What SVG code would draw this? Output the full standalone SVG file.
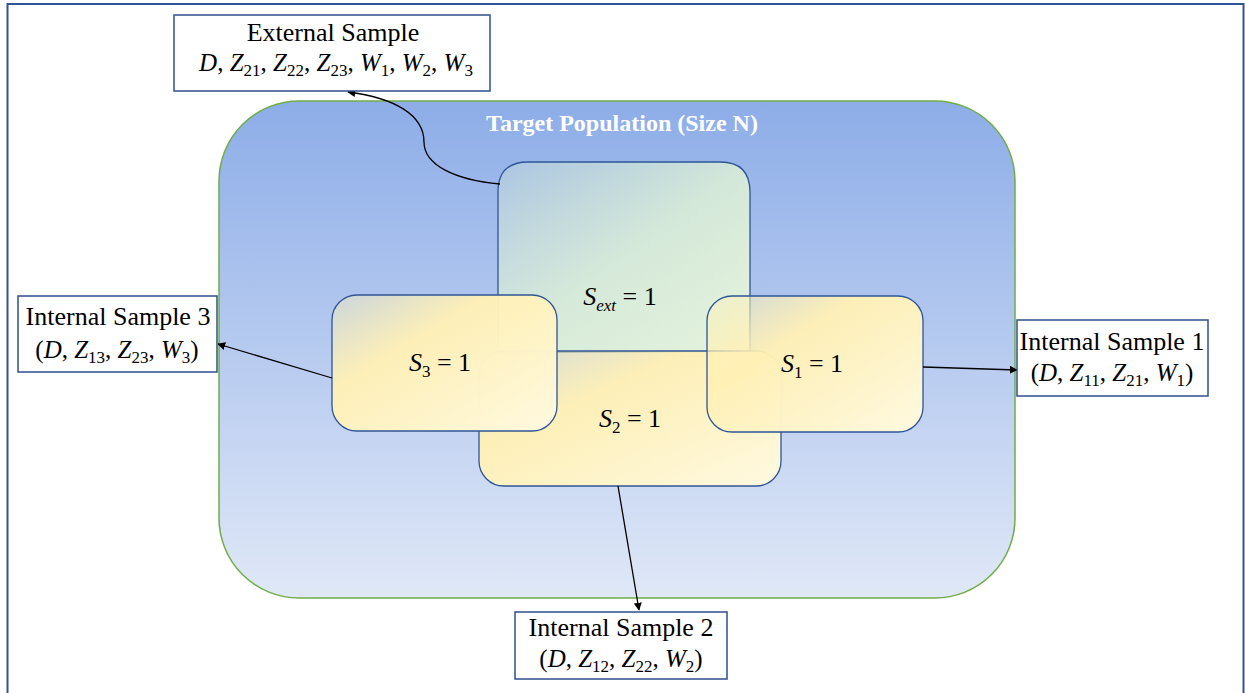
<svg xmlns="http://www.w3.org/2000/svg" width="1245" height="693" viewBox="0 0 1245 693">
<style>
.lbl{font-family:"Liberation Serif",serif;font-size:26px;fill:#000;text-anchor:middle}
.m{font-family:"Liberation Serif",serif;font-size:25px;fill:#000;text-anchor:middle}
.s{font-family:"Liberation Serif",serif;font-size:26px;fill:#000;text-anchor:middle}
.i{font-style:italic}
.sub{font-size:17px}
.box{fill:#fff;stroke:#2f4f8f;stroke-width:1.5}
.samp{stroke:#2f5597;stroke-width:1.3}
.conn{fill:none;stroke:#000;stroke-width:1.3}
</style>
<defs>
<linearGradient id="pop" x1="0" y1="0" x2="0" y2="1">
<stop offset="0" stop-color="#8dade8"/>
<stop offset="1" stop-color="#e0e8f7"/>
</linearGradient>
<linearGradient id="yel" x1="0" y1="0" x2="1" y2="1">
<stop offset="0" stop-color="#fff2b8" stop-opacity="0.35"/>
<stop offset="0.35" stop-color="#fff0b5" stop-opacity="0.97"/>
<stop offset="1" stop-color="#fff9e0" stop-opacity="1"/>
</linearGradient>
<linearGradient id="grn" x1="0" y1="0" x2="1" y2="1">
<stop offset="0" stop-color="#d8ecd0" stop-opacity="0.3"/>
<stop offset="0.5" stop-color="#ddf0d6" stop-opacity="0.85"/>
<stop offset="1" stop-color="#e4f3dc" stop-opacity="1"/>
</linearGradient>
<marker id="ah" viewBox="0 0 10 10" refX="9" refY="5" markerWidth="8" markerHeight="8" markerUnits="userSpaceOnUse" orient="auto">
<path d="M0,0 L10,5 L0,10 z" fill="#000"/>
</marker>
</defs>
<rect x="7.5" y="4" width="1236" height="700" fill="#fff" stroke="#2f5597" stroke-width="2"/>
<g id="population">
<rect x="219" y="101" width="796" height="497" rx="80" ry="80" fill="url(#pop)" stroke="#70ad47" stroke-width="1.5"/>
<text x="622" y="131" style="font-family:'Liberation Serif',serif;font-size:24px;font-weight:bold;fill:#fff" text-anchor="middle">Target Population (Size N)</text>
</g>
<g id="s_ext">
<path d="M498,352 L498,192 Q498,162 528,162 L720,162 Q750,162 750,192 L750,352 Z" fill="url(#grn)" class="samp"/>
</g>
<g id="s2">
<rect x="479" y="351" width="302" height="135" rx="25" fill="url(#yel)" class="samp"/>
</g>
<g id="s3">
<rect x="332" y="295" width="225" height="136" rx="25" fill="url(#yel)" class="samp"/>
</g>
<g id="s1">
<rect x="707" y="296" width="216" height="136" rx="25" fill="url(#yel)" class="samp"/>
</g>
<g id="s-labels">
<text class="s" x="620" y="305"><tspan class="i">S</tspan><tspan class="i sub" dy="6">ext</tspan><tspan dy="-6"> = 1</tspan></text>
<text class="s" x="440" y="371"><tspan class="i">S</tspan><tspan class="sub" dy="6">3</tspan><tspan dy="-6"> = 1</tspan></text>
<text class="s" x="812" y="372"><tspan class="i">S</tspan><tspan class="sub" dy="6">1</tspan><tspan dy="-6"> = 1</tspan></text>
<text class="s" x="630" y="427"><tspan class="i">S</tspan><tspan class="sub" dy="6">2</tspan><tspan dy="-6"> = 1</tspan></text>
</g>
<g id="connectors">
<path class="conn" d="M500,184 C455,180 424,165 424,142 C424,115 395,98 348,92" marker-end="url(#ah)"/>
<line class="conn" x1="332" y1="378" x2="218" y2="344" marker-end="url(#ah)"/>
<line class="conn" x1="923" y1="367" x2="1017" y2="370" marker-end="url(#ah)"/>
<line class="conn" x1="618" y1="486" x2="639" y2="610" marker-end="url(#ah)"/>
</g>
<g id="ext-box">
<rect class="box" x="174" y="15" width="316" height="76"/>
<text class="lbl" x="333" y="41">External Sample</text>
<text class="m" x="336" y="71"><tspan class="i">D</tspan>, <tspan class="i">Z</tspan><tspan class="sub" dy="5">21</tspan><tspan dy="-5">, </tspan><tspan class="i">Z</tspan><tspan class="sub" dy="5">22</tspan><tspan dy="-5">, </tspan><tspan class="i">Z</tspan><tspan class="sub" dy="5">23</tspan><tspan dy="-5">, </tspan><tspan class="i">W</tspan><tspan class="sub" dy="5">1</tspan><tspan dy="-5">, </tspan><tspan class="i">W</tspan><tspan class="sub" dy="5">2</tspan><tspan dy="-5">, </tspan><tspan class="i">W</tspan><tspan class="sub" dy="5">3</tspan></text>
</g>
<g id="int3-box">
<rect class="box" x="18" y="296" width="199" height="76"/>
<text class="lbl" x="118" y="325">Internal Sample 3</text>
<text class="m" x="117" y="358">(<tspan class="i">D</tspan>, <tspan class="i">Z</tspan><tspan class="sub" dy="5">13</tspan><tspan dy="-5">, </tspan><tspan class="i">Z</tspan><tspan class="sub" dy="5">23</tspan><tspan dy="-5">, </tspan><tspan class="i">W</tspan><tspan class="sub" dy="5">3</tspan><tspan dy="-5">)</tspan></text>
</g>
<g id="int1-box">
<rect class="box" x="1017" y="320" width="191" height="76"/>
<text class="lbl" x="1112" y="350">Internal Sample 1</text>
<text class="m" x="1112" y="381">(<tspan class="i">D</tspan>, <tspan class="i">Z</tspan><tspan class="sub" dy="5">11</tspan><tspan dy="-5">, </tspan><tspan class="i">Z</tspan><tspan class="sub" dy="5">21</tspan><tspan dy="-5">, </tspan><tspan class="i">W</tspan><tspan class="sub" dy="5">1</tspan><tspan dy="-5">)</tspan></text>
</g>
<g id="int2-box">
<rect class="box" x="515" y="612" width="212" height="67"/>
<text class="lbl" x="621" y="636">Internal Sample 2</text>
<text class="m" x="621" y="667">(<tspan class="i">D</tspan>, <tspan class="i">Z</tspan><tspan class="sub" dy="5">12</tspan><tspan dy="-5">, </tspan><tspan class="i">Z</tspan><tspan class="sub" dy="5">22</tspan><tspan dy="-5">, </tspan><tspan class="i">W</tspan><tspan class="sub" dy="5">2</tspan><tspan dy="-5">)</tspan></text>
</g>
</svg>
